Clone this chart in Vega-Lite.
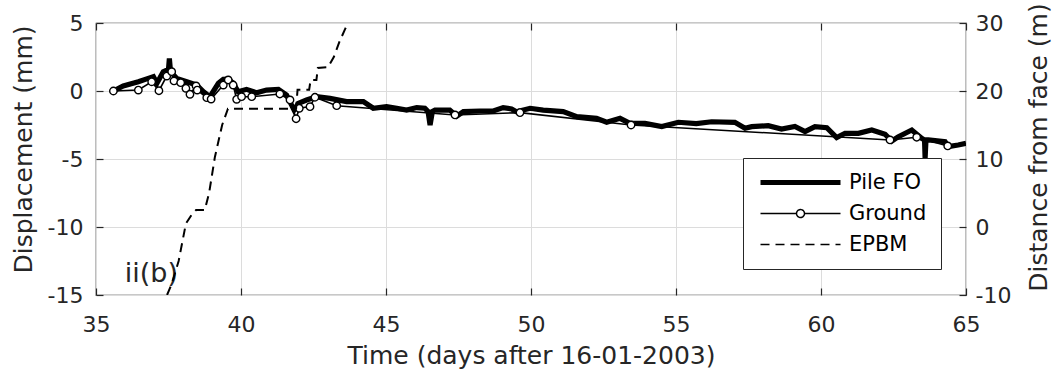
{
  "$schema": "https://vega.github.io/schema/vega-lite/v6.json",
  "autosize": {"type": "none"},
  "width": 870,
  "height": 272,
  "padding": {"left": 96, "top": 23, "right": 97, "bottom": 83},
  "background": "white",
  "config": {
    "view": {"stroke": "#262626", "strokeWidth": 1.2},
    "axis": {
      "labelFont": "DejaVu Sans", "labelFontSize": 22, "labelColor": "#262626",
      "titleFont": "DejaVu Sans", "titleFontSize": 25, "titleFontWeight": "normal", "titleColor": "#262626",
      "tickColor": "#262626", "tickSize": -7, "tickWidth": 1.2,
      "gridColor": "#dcdcdc", "gridWidth": 1,
      "domain": false, "labelFlush": false, "labelOverlap": false
    },
    "legend": {
      "labelFont": "DejaVu Sans", "labelFontSize": 21, "labelColor": "#000000"
    }
  },
  "datasets": {
    "pile": [
      {"t": 35.6, "v": 0}, {"t": 35.94, "v": 0.37}, {"t": 36.46, "v": 0.68}, {"t": 36.8, "v": 0.93},
      {"t": 36.98, "v": 1.05}, {"t": 37.1, "v": 0.57}, {"t": 37.32, "v": 1.42}, {"t": 37.5, "v": 1.6},
      {"t": 37.53, "v": 2.4}, {"t": 37.57, "v": 1.42}, {"t": 37.78, "v": 0.93}, {"t": 38.13, "v": 0.68},
      {"t": 38.47, "v": 0.44}, {"t": 38.7, "v": -0.05}, {"t": 38.93, "v": -0.42}, {"t": 39.22, "v": 0.57},
      {"t": 39.39, "v": 0.86}, {"t": 39.56, "v": 0.88}, {"t": 39.73, "v": 0.57}, {"t": 39.9, "v": -0.05},
      {"t": 40.19, "v": 0.12}, {"t": 40.54, "v": -0.13}, {"t": 40.88, "v": 0.07}, {"t": 41.29, "v": 0.12},
      {"t": 41.57, "v": -0.29}, {"t": 41.83, "v": -1.4}, {"t": 41.98, "v": -0.9}, {"t": 42.26, "v": -0.66},
      {"t": 42.61, "v": -0.42}, {"t": 43.07, "v": -0.54}, {"t": 43.64, "v": -0.78}, {"t": 44.22, "v": -0.78},
      {"t": 44.56, "v": -1.27}, {"t": 45.02, "v": -1.15}, {"t": 45.37, "v": -1.27}, {"t": 45.71, "v": -1.4},
      {"t": 46.06, "v": -1.22}, {"t": 46.34, "v": -1.27}, {"t": 46.45, "v": -1.5}, {"t": 46.52, "v": -2.5},
      {"t": 46.6, "v": -1.5}, {"t": 46.69, "v": -1.4}, {"t": 47.2, "v": -1.4}, {"t": 47.44, "v": -1.85},
      {"t": 47.67, "v": -1.52}, {"t": 48.24, "v": -1.47}, {"t": 48.7, "v": -1.47}, {"t": 49.04, "v": -1.22},
      {"t": 49.33, "v": -1.32}, {"t": 49.5, "v": -1.52}, {"t": 49.97, "v": -1.27}, {"t": 50.42, "v": -1.4},
      {"t": 51.11, "v": -1.52}, {"t": 51.58, "v": -1.89}, {"t": 52.26, "v": -2.01}, {"t": 52.61, "v": -2.3},
      {"t": 53.07, "v": -2.01}, {"t": 53.41, "v": -2.38}, {"t": 53.93, "v": -2.38}, {"t": 54.51, "v": -2.62},
      {"t": 55.08, "v": -2.3}, {"t": 55.7, "v": -2.4}, {"t": 56.23, "v": -2.26}, {"t": 57.03, "v": -2.3}, {"t": 57.38, "v": -2.74},
      {"t": 57.61, "v": -2.62}, {"t": 58.18, "v": -2.55}, {"t": 58.64, "v": -2.8}, {"t": 59.1, "v": -2.6},
      {"t": 59.45, "v": -2.99}, {"t": 59.79, "v": -2.62}, {"t": 60.2, "v": -2.7}, {"t": 60.54, "v": -3.43},
      {"t": 60.83, "v": -3.11}, {"t": 61.29, "v": -3.11}, {"t": 61.75, "v": -2.87}, {"t": 62.21, "v": -3.18},
      {"t": 62.44, "v": -3.68}, {"t": 62.67, "v": -3.36}, {"t": 63.13, "v": -2.87}, {"t": 63.47, "v": -3.48},
      {"t": 63.57, "v": -3.6}, {"t": 63.59, "v": -4.93}, {"t": 63.62, "v": -3.6}, {"t": 63.7, "v": -3.6},
      {"t": 64.28, "v": -3.73}, {"t": 64.39, "v": -4.09}, {"t": 64.73, "v": -3.97}, {"t": 65, "v": -3.85}
    ],
    "ground": [
      {"t": 35.6, "v": 0.0}, {"t": 36.46, "v": 0.07}, {"t": 36.92, "v": 0.68}, {"t": 37.17, "v": 0.02},
      {"t": 37.44, "v": 1.1}, {"t": 37.61, "v": 1.42}, {"t": 37.69, "v": 0.74}, {"t": 37.92, "v": 0.61},
      {"t": 38.1, "v": 0.2}, {"t": 38.24, "v": -0.24}, {"t": 38.45, "v": 0.37}, {"t": 38.49, "v": 0.07},
      {"t": 38.82, "v": -0.49}, {"t": 38.97, "v": -0.59}, {"t": 39.39, "v": 0.44}, {"t": 39.56, "v": 0.81},
      {"t": 39.73, "v": 0.44}, {"t": 39.85, "v": -0.61}, {"t": 40.02, "v": -0.42}, {"t": 40.37, "v": -0.42},
      {"t": 41.34, "v": -0.22}, {"t": 41.69, "v": -0.66}, {"t": 41.9, "v": -2.04}, {"t": 42.01, "v": -1.27},
      {"t": 42.38, "v": -1.15}, {"t": 42.55, "v": -0.46}, {"t": 43.3, "v": -1.08}, {"t": 47.38, "v": -1.76},
      {"t": 49.62, "v": -1.59}, {"t": 53.45, "v": -2.5}, {"t": 62.38, "v": -3.6}, {"t": 63.3, "v": -3.4},
      {"t": 64.37, "v": -4.04}
    ],
    "epbm": [
      {"t": 37.45, "d": -10}, {"t": 37.6, "d": -8.5}, {"t": 37.85, "d": -5}, {"t": 38.1, "d": 0.5},
      {"t": 38.3, "d": 1.8}, {"t": 38.45, "d": 2.5}, {"t": 38.75, "d": 2.5}, {"t": 38.9, "d": 5},
      {"t": 39.1, "d": 10.3}, {"t": 39.35, "d": 15}, {"t": 39.55, "d": 17.4}, {"t": 41.9, "d": 17.4},
      {"t": 41.95, "d": 20.2}, {"t": 42.35, "d": 20.2}, {"t": 42.4, "d": 21.6}, {"t": 42.6, "d": 21.6},
      {"t": 42.65, "d": 23.4}, {"t": 43.0, "d": 23.5}, {"t": 43.2, "d": 25}, {"t": 43.4, "d": 27.3},
      {"t": 43.6, "d": 29.2}, {"t": 43.7, "d": 30}
    ],
    "note": [{"t": 36.91, "v": -14.04, "label": "ii(b)"}]
  },
  "layer": [
    {
      "layer": [
        {
          "data": {"name": "pile"},
          "mark": {"type": "line", "strokeWidth": 5.2, "clip": true},
          "encoding": {
            "x": {"field": "t", "type": "quantitative",
                  "scale": {"domain": [35, 65], "nice": false, "zero": false},
                  "axis": {"orient": "bottom", "values": [35, 40, 45, 50, 55, 60, 65], "grid": true,
                           "labelPadding": 26, "title": "Time (days after 16-01-2003)", "titlePadding": 8}},
            "y": {"field": "v", "type": "quantitative",
                  "scale": {"domain": [-15, 5], "nice": false, "zero": false},
                  "axis": {"orient": "left", "values": [-15, -10, -5, 0, 5], "grid": true,
                           "labelPadding": 20, "labelExpr": "'' + datum.value",
                           "title": "Displacement (mm)", "titleAngle": 270, "titleX": -73, "titleY": 126,
                           "titleAlign": "center", "titleBaseline": "middle"}},
            "color": {"datum": "Pile FO",
                      "scale": {"domain": ["Pile FO", "Ground", "EPBM"], "range": ["#000000", "#000000", "#000000"]},
                      "legend": {
                        "title": null, "orient": "none", "legendX": 647, "legendY": 135,
                        "fillColor": "white", "strokeColor": "#262626", "padding": 14,
                        "rowPadding": 9, "symbolSize": 400, "labelOffset": 71,
                        "symbolType": "M-0.7,0H7.3", "symbolStrokeColor": "#000000", "symbolFillColor": "white",
                        "encode": {"symbols": {"update": {
                          "shape": {"signal": "datum.value === 'Ground' ? 'M-0.7,0H2.9M3.7,0H7.3M2.9,0A0.4,0.4 0 1,1 3.7,0A0.4,0.4 0 1,1 2.9,0' : 'M-0.7,0H7.3'"},
                          "strokeWidth": {"signal": "datum.value === 'Pile FO' ? 5 : 1.5"},
                          "strokeDash": {"signal": "datum.value === 'EPBM' ? [9, 6] : [1, 0]"},
                          "fill": {"value": "white"},
                          "stroke": {"value": "#000000"}
                        }}}
                      }}
          }
        },
        {
          "data": {"name": "ground"},
          "mark": {"type": "line", "strokeWidth": 1.6, "clip": true},
          "encoding": {
            "x": {"field": "t", "type": "quantitative"},
            "y": {"field": "v", "type": "quantitative"},
            "color": {"datum": "Ground"}
          }
        },
        {
          "data": {"name": "ground"},
          "mark": {"type": "point", "filled": true, "fill": "white", "stroke": "#000000", "strokeWidth": 1.4, "size": 55, "opacity": 1},
          "encoding": {
            "x": {"field": "t", "type": "quantitative"},
            "y": {"field": "v", "type": "quantitative"}
          }
        },
        {
          "data": {"name": "note"},
          "mark": {"type": "text", "font": "DejaVu Sans", "fontSize": 27, "align": "center", "baseline": "alphabetic", "color": "#262626"},
          "encoding": {
            "x": {"field": "t", "type": "quantitative"},
            "y": {"field": "v", "type": "quantitative"},
            "text": {"field": "label"}
          }
        }
      ]
    },
    {
      "data": {"name": "epbm"},
      "mark": {"type": "line", "strokeWidth": 2, "strokeDash": [9, 6], "clip": true},
      "encoding": {
        "x": {"field": "t", "type": "quantitative",
              "axis": {"orient": "top", "values": [35, 40, 45, 50, 55, 60, 65], "labels": false, "grid": false, "title": null}},
        "y": {"field": "d", "type": "quantitative",
              "scale": {"domain": [-10, 30], "nice": false, "zero": false},
              "axis": {"orient": "right", "values": [-10, 0, 10, 20, 30], "grid": false,
                       "labelPadding": 16, "labelExpr": "'' + datum.value",
                       "title": "Distance from face (m)", "titleAngle": 270, "titleX": 72, "titleY": 124,
                       "titleAlign": "center", "titleBaseline": "middle"}},
        "color": {"datum": "EPBM"}
      }
    }
  ],
  "resolve": {"scale": {"y": "independent"}, "axis": {"x": "independent"}}
}
